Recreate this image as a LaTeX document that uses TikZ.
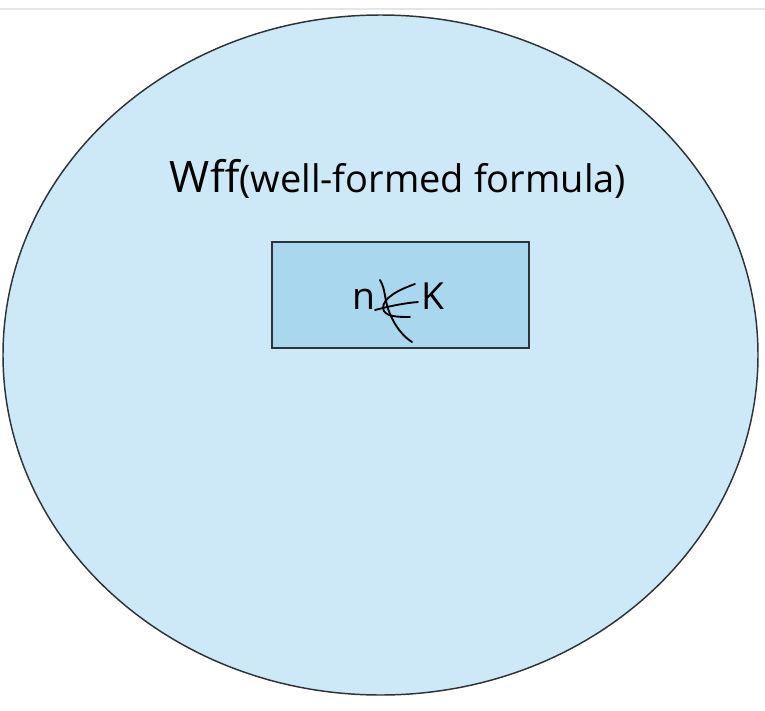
\documentclass[tikz,border=0pt]{standalone}
\usepackage{fontspec}
\setmainfont{Open Sans}
\definecolor{setblue}{HTML}{CDE8F6}
\definecolor{boxblue}{HTML}{A9D7EE}
\definecolor{rimgray}{HTML}{2E3338}
\tikzset{
  handstroke/.style={line width=1.4pt, line cap=round, line join=round, black},
  label/.style={inner sep=0pt, anchor=base}
}
\begin{document}
\begin{tikzpicture}[x=0.75pt, y=-0.75pt]
        \useasboundingbox (0,0) rectangle (765,711);
        % thin line along the top edge
        \draw[gray!20, line width=0.8pt] (0,9) -- (765,9);

        % set of all Wff
        \draw[rimgray, line width=1.1pt, fill=setblue] (380.5,355) ellipse [x radius=377.5, y radius=340];
        \node[label] (wff) at (398,192) {\fontsize{32.5}{36}\selectfont Wff\fontsize{28.5}{32}\selectfont(well-formed formula)};

        % subset box
        \node[draw=rimgray, line width=1.4pt, fill=boxblue, minimum width=257.5*0.75pt, minimum height=106.5*0.75pt, inner sep=0pt] (box) at (400.5,295) {};
        \node[label, anchor=base east] (n) at (376,309) {\fontsize{28}{32}\selectfont n};
        \node[label, anchor=base west] (k) at (421,309) {\fontsize{28}{32}\selectfont K};

        % hand drawn "not in" between n and K
        \draw[handstroke] (415,284) .. controls (398,290) and (383,298) .. (383,308) .. controls (384,317) and (398,317) .. (410,317);
        \draw[handstroke] (375,310) .. controls (390,306) and (405,303) .. (418,302);
        \draw[handstroke] (380,280) .. controls (386,290) and (384,300) .. (390,314) .. controls (396,328) and (404,337) .. (412,342);
\end{tikzpicture}
\end{document}
